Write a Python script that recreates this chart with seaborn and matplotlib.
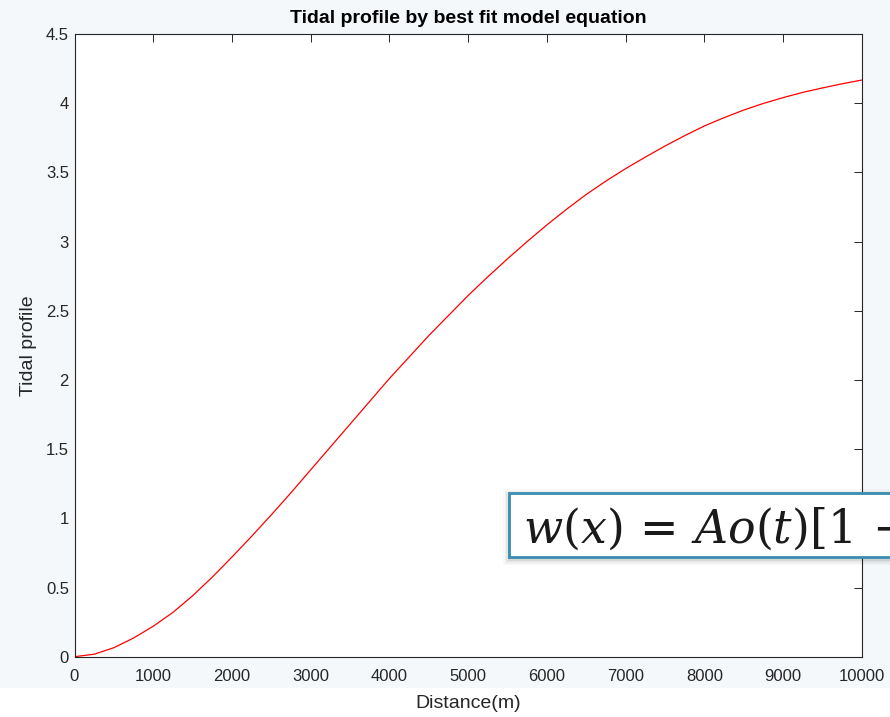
import matplotlib
matplotlib.use("Agg")
import matplotlib.pyplot as plt
import seaborn as sns
import pandas as pd
from matplotlib.patches import Rectangle
from matplotlib.ticker import FormatStrFormatter

# Data
distance_m = [0, 250, 500, 750, 1000, 1250, 1500, 1750, 2000, 2250, 2500,
              2750, 3000, 3250, 3500, 3750, 4000, 4250, 4500, 4750, 5000,
              5250, 5500, 5750, 6000, 6250, 6500, 6750, 7000, 7250, 7500,
              7750, 8000, 8250, 8500, 8750, 9000, 9250, 9500, 9750, 10000]
tidal_profile = [0.0, 0.018, 0.065, 0.135, 0.22, 0.32, 0.44, 0.575, 0.72, 0.87, 1.025,
                 1.185, 1.35, 1.515, 1.68, 1.845, 2.01, 2.165, 2.32, 2.465, 2.61,
                 2.745, 2.875, 3.0, 3.12, 3.233, 3.34, 3.437, 3.527, 3.61, 3.69,
                 3.765, 3.835, 3.895, 3.95, 3.998, 4.04, 4.078, 4.11, 4.14, 4.167]
x_ticks = [0, 1000, 2000, 3000, 4000, 5000, 6000, 7000, 8000, 9000, 10000]
y_ticks = [0, 0.5, 1, 1.5, 2, 2.5, 3, 3.5, 4, 4.5]
title_text = "Tidal profile by best fit model equation"
x_label = "Distance(m)"
y_label = "Tidal profile"
equation_text = r"$w(x)\,=\,Ao(t)[1\,-$"

sns.set_theme(style="white")
plt.rcParams["font.family"] = ["Liberation Sans", "DejaVu Sans"]
plt.rcParams["mathtext.fontset"] = "dejavuserif"

df = pd.DataFrame({"Distance": distance_m, "Profile": tidal_profile})

fig = plt.figure(figsize=(8.9, 7.17), dpi=100, facecolor="#f5f8fb")
# white strip at the bottom
fig.patches.append(Rectangle((0, 0), 1, 29 / 717, transform=fig.transFigure,
                             facecolor="white", edgecolor="none", zorder=-5))

ax = fig.add_axes([74.5 / 890, 60.3 / 717, 787.2 / 890, 622.7 / 717])
ax.set_facecolor("white")
sns.lineplot(data=df, x="Distance", y="Profile", ax=ax, color="#ff0000",
             linewidth=0.9)

ax.set_xlim(0, 10000)
ax.set_ylim(0, 4.5)
ax.set_xticks(x_ticks)
ax.set_yticks(y_ticks)
ax.yaxis.set_major_formatter(FormatStrFormatter("%g"))
ax.tick_params(direction="in", length=5.5, width=0.7, colors="#262626",
               labelsize=12, top=True, right=True)
ax.tick_params(axis="x", pad=9)
ax.tick_params(axis="y", pad=4)
for s in ax.spines.values():
    s.set_color("#262626")
    s.set_linewidth(0.8)

ax.set_title(title_text, fontsize=14, fontweight="bold", color="black", pad=8)
ax.set_xlabel(x_label, fontsize=14, color="#262626", labelpad=8)
ax.set_ylabel(y_label, fontsize=14, color="#262626", labelpad=6)

# Equation overlay box (clipped at the right edge like the reference)
bx0, by0, bh = 509 / 890, (717 - 557) / 717, 64 / 717
for i, a in enumerate([0.05, 0.045, 0.035, 0.025]):
    off = (i + 1) * 1.5
    fig.patches.append(Rectangle((bx0 - off / 890, by0 - off / 717 - 2 / 717),
                                 0.6, bh + 2 * off / 717,
                                 transform=fig.transFigure, facecolor="black",
                                 alpha=a, edgecolor="none", zorder=5))
fig.patches.append(Rectangle((bx0, by0), 0.6, bh, transform=fig.transFigure,
                             facecolor="white", edgecolor="#3a8db0",
                             linewidth=2.0, zorder=6))
fig.text(523 / 890, (717 - 543) / 717, equation_text, fontsize=33,
         color="#1a1a1a", ha="left", va="baseline", zorder=7)

fig.savefig("out.png", dpi=100, facecolor=fig.get_facecolor())
